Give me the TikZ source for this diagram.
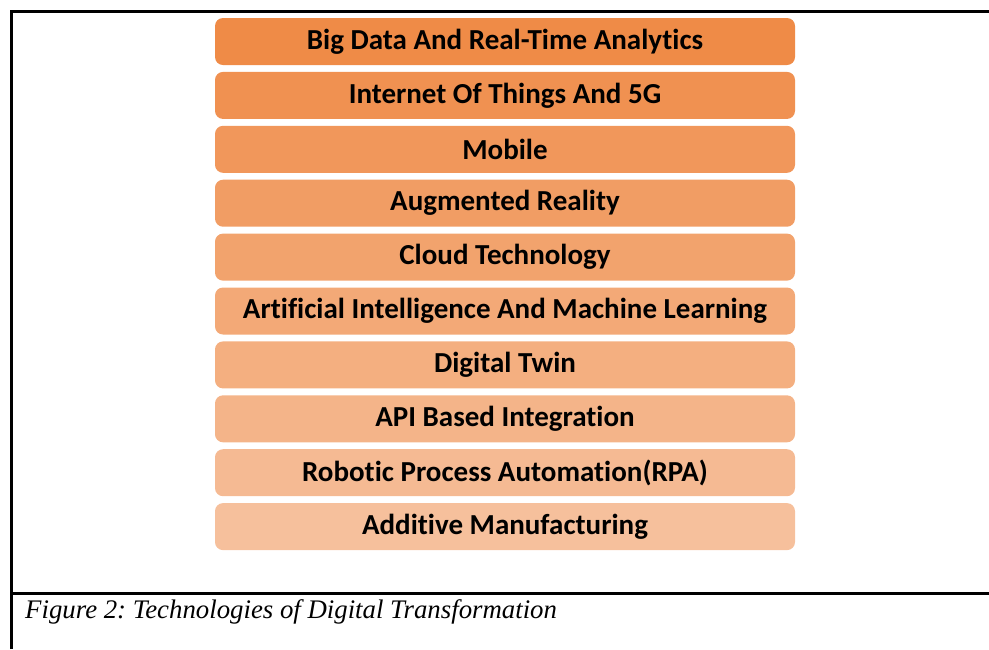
\documentclass[tikz,border=0pt]{standalone}
\usepackage{fontspec}
\setmainfont{Liberation Serif}
\newfontfamily\boxfont[Ligatures=NoCommon]{Carlito}
\usetikzlibrary{positioning}

\definecolor{boxtop}{RGB}{239,139,71}
\definecolor{boxbot}{RGB}{246,192,156}

\begin{document}
\frenchspacing
\begin{tikzpicture}[x=1pt,y=-1pt,
  techbox/.style={rounded corners=8pt,minimum width=580pt,minimum height=47pt,inner sep=0pt,
    font=\boxfont\bfseries\fontsize{29}{32}\selectfont,text=black}]
  \useasboundingbox (0,0) rectangle (989,649);
  % frame and caption rule
  \draw[line width=3pt] (11,649) -- (11,11) -- (989,11);
  \draw[line width=3pt] (11,593) -- (989,593);
  % stacked technology boxes, darkest on top
  \foreach \i/\txt in {1/Big Data And Real-Time Analytics,
                       2/Internet Of Things And 5G,
                       3/Mobile,
                       4/Augmented Reality,
                       5/Cloud Technology,
                       6/Artificial Intelligence And Machine Learning,
                       7/Digital Twin,
                       8/API Based Integration,
                       9/Robotic Process Automation(RPA),
                       10/Additive Manufacturing} {
    \pgfmathtruncatemacro\p{100-(\i-1)*100/9}
    \node[techbox,fill=boxtop!\p!boxbot] (t\i) at (505,{41.5+(\i-1)*53.9}) {\txt};
  }
  \node[anchor=base west,inner sep=0pt,font=\itshape\fontsize{26.8}{30}\selectfont] (cap) at (25,618)
    {Figure 2: Technologies of Digital Transformation};
\end{tikzpicture}
\end{document}
